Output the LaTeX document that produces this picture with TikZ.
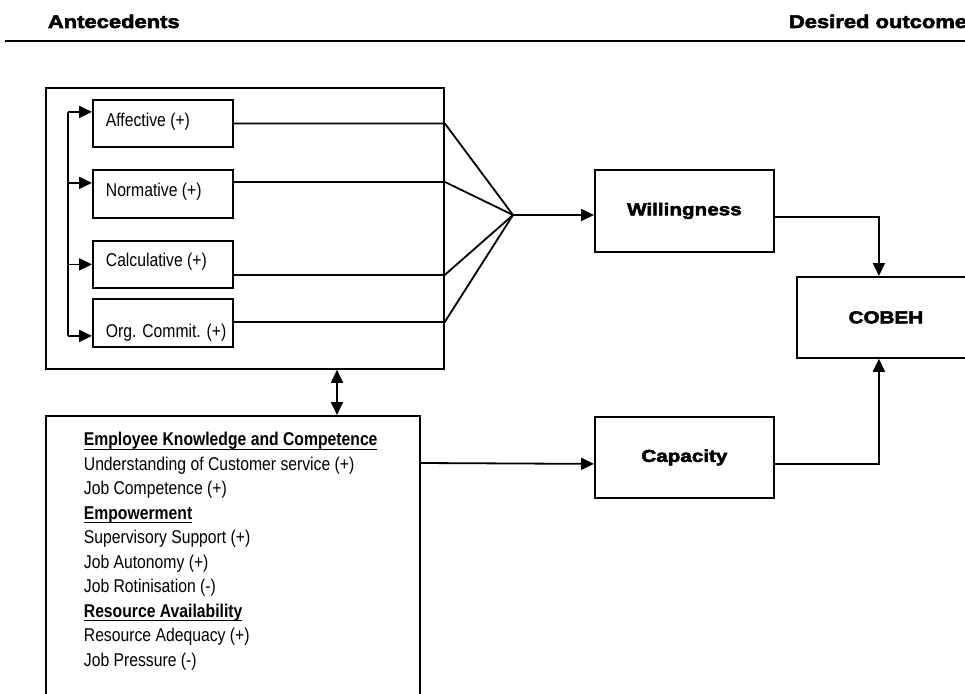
\documentclass[tikz,border=0pt]{standalone}
\usepackage{fontspec}
\setmainfont{Liberation Sans}[FakeStretch=0.85]
\newfontfamily\heavyfont{Liberation Sans}[FakeStretch=1.2,BoldFeatures={FakeBold=3}]
\usetikzlibrary{arrows.meta}

% underlined bold heading with a rule just under the descenders
\newcommand\ulhead[1]{\setbox0\hbox{\bfseries #1}\rlap{\rule[-4.2pt]{\wd0}{1.3pt}}\box0}

\begin{document}
\begin{tikzpicture}[
  x=1pt, y=-1pt,
  line width=1.8pt,
  frame/.style={draw, line width=1.8pt, inner sep=0pt},
  itembox/.style 2 args={frame, anchor=north west,
    inner xsep=13pt, inner ysep=0pt,
    text height=#1, text depth=#2,
    font=\fontsize{18.5}{22}\selectfont},
  keybox/.style={frame, anchor=north west, minimum height=82pt,
    font=\fontsize{17.2}{20}\selectfont\heavyfont\bfseries},
  heading/.style={anchor=base west, inner sep=0pt,
    font=\fontsize{18.3}{22}\selectfont\heavyfont\bfseries},
  listline/.style={anchor=base west, inner sep=0pt,
    font=\fontsize{18.5}{22}\selectfont},
  arr/.style={-{Triangle[length=13pt,width=12pt]}},
  arrboth/.style={{Triangle[length=13pt,width=12pt]}-{Triangle[length=13pt,width=12pt]}}
]
\useasboundingbox (0,0) rectangle (965,693);
\clip (0,0) rectangle (965,693);

% column headings and rule
\node[heading] (antec) at (47,28) {Antecedents};
\node[heading] (desired) at (788,28) {Desired outcome};
\draw[line width=2.6pt] (5,41) -- (965,41);

% commitment block
\node[frame, anchor=north west, minimum width=398pt, minimum height=281pt] (commit) at (45,87) {};
\node[itembox={26.7pt}{20.3pt}] (aff)  at (92,99)  {\makebox[114pt][l]{Affective (+)}};
\node[itembox={26.7pt}{21.3pt}] (norm) at (92,169) {\makebox[114pt][l]{Normative (+)}};
\node[itembox={26pt}{21pt}]     (calc) at (92,240) {\makebox[114pt][l]{Calculative (+)}};
\node[itembox={39pt}{9pt}]      (org)  at (92,298) {\makebox[114pt][l]{Org. Commit. (+)}};

% feedback rail on the left
\coordinate (rail) at (68,0);
\draw ([yshift=11.5pt]aff.west -| rail) -- ([yshift=-13pt]org.west -| rail);
\draw[arr] ([yshift=11.5pt]aff.west -| rail) -- ([yshift=11.5pt]aff.west);
\draw[arr] ([yshift=11pt]norm.west -| rail) -- ([yshift=11pt]norm.west);
\draw[arr] (calc.west -| rail) -- (calc.west);
\draw[arr] ([yshift=-13pt]org.west -| rail) -- ([yshift=-13pt]org.west);

% outcome boxes
\node[keybox, minimum width=179pt] (will) at (594,169) {Willingness};
\node[keybox, minimum width=179pt, minimum height=81pt] (cap) at (594,416) {Capacity};
\node[keybox, minimum width=178pt, minimum height=81pt] (cobeh) at (796,276) {COBEH};

% merging lines into willingness
\coordinate (hub) at (513,215);
\draw (aff.east) -- (aff.east -| commit.east) -- (hub);
\draw ([yshift=12pt]norm.east) -- ([yshift=12pt]norm.east -| commit.east) -- (hub);
\draw ([yshift=-10.5pt]calc.east) -- ([yshift=-10.5pt]calc.east -| commit.east) -- (hub);
\draw ([yshift=1pt]org.east) -- ([yshift=1pt]org.east -| commit.east) -- (hub);
\draw[arr] (hub) -- (hub -| will.west);

% capacity factors block
\node[frame, anchor=north west, minimum width=374pt, minimum height=320pt] (factbox) at (45,415) {};
\foreach \t [count=\i] in {
  {\ulhead{Employee Knowledge and Competence}},
  {Understanding of Customer service (+)},
  {Job Competence (+)},
  {\ulhead{Empowerment}},
  {Supervisory Support (+)},
  {Job Autonomy (+)},
  {Job Rotinisation (-)},
  {\ulhead{Resource Availability}},
  {Resource Adequacy (+)},
  {Job Pressure (-)}}
  \node[listline] (line\i) at (83,{445.7+(\i-1)*24.5}) {\t};

% link between the two antecedent blocks
\coordinate (link) at (337,0);
\draw[arrboth] (commit.south -| link) -- (factbox.north -| link);

% connectors to the outcome
\draw[arr] ([yshift=-48pt]factbox.north east) -- ([yshift=-6.5pt]cap.west);
\draw[arr] ([yshift=-6pt]will.east) -| ([xshift=-7pt]cobeh.north);
\draw[arr] ([yshift=-6.5pt]cap.east) -| ([xshift=-7pt]cobeh.south);
\end{tikzpicture}
\end{document}
